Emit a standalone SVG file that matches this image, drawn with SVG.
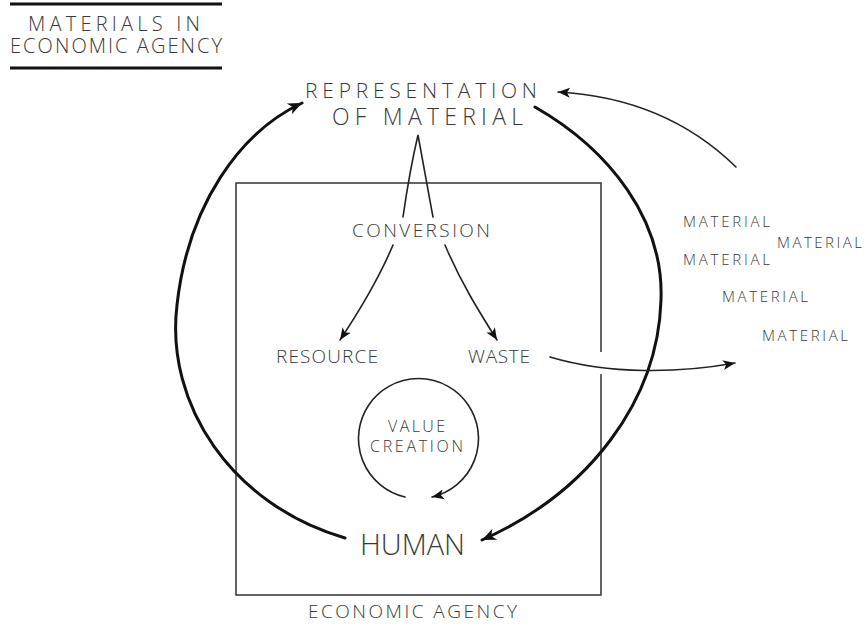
<svg xmlns="http://www.w3.org/2000/svg" width="866" height="624" viewBox="0 0 866 624">
  <defs>
    <marker id="head" markerUnits="userSpaceOnUse" markerWidth="16" markerHeight="14" refX="14" refY="7" orient="auto">
      <path d="M0,1 L14,7 L0,13 L4,7 Z" fill="#111"/>
    </marker>
    <marker id="headSmall" markerUnits="userSpaceOnUse" markerWidth="14" markerHeight="12" refX="12" refY="6" orient="auto">
      <path d="M0,1 L12,6 L0,11 L3,6 Z" fill="#111"/>
    </marker>
    <style>
      text { font-family: "Open Sans", "DejaVu Sans", sans-serif; font-weight: 300; fill: #3a3a3a; }
      .thick { fill: none; stroke: #111; stroke-width: 3; stroke-linecap: round; }
      .thin { fill: none; stroke: #222; stroke-width: 1.6; stroke-linecap: round; }
      .frame { fill: none; stroke: #333; stroke-width: 1.5; }
      .rule { stroke: #111; stroke-width: 3; }
    </style>
  </defs>
  <rect width="866" height="624" fill="#fff"/>

  <!-- title block -->
  <g id="title">
    <line class="rule" x1="10" y1="4" x2="222" y2="4"/>
    <text x="28" y="31" font-size="20" textLength="172" lengthAdjust="spacing">MATERIALS IN</text>
    <text x="10" y="53" font-size="20" textLength="212" lengthAdjust="spacing">ECONOMIC AGENCY</text>
    <line class="rule" x1="10" y1="68" x2="222" y2="68"/>
  </g>

  <!-- economic agency frame -->
  <g id="economic-agency">
    <path class="frame" d="M601,352 L601,183 L236,183 L236,595 L601,595 L601,374"/>
    <text x="308" y="618" font-size="19" textLength="209" lengthAdjust="spacing">ECONOMIC AGENCY</text>
  </g>

  <g id="representation">
    <text x="305" y="98" font-size="21" textLength="232" lengthAdjust="spacing">REPRESENTATION</text>
    <text x="332" y="125" font-size="23" textLength="191" lengthAdjust="spacing">OF MATERIAL</text>
  </g>

  <g id="conversion">
    <text x="352" y="237" font-size="19" textLength="138" lengthAdjust="spacing">CONVERSION</text>
  </g>

  <g id="resource">
    <text x="276" y="363" font-size="19" textLength="102" lengthAdjust="spacing">RESOURCE</text>
  </g>

  <g id="waste">
    <text x="468" y="363" font-size="19" textLength="62" lengthAdjust="spacing">WASTE</text>
  </g>

  <g id="value-creation">
    <text x="388" y="432" font-size="16" textLength="57" lengthAdjust="spacing">VALUE</text>
    <text x="370" y="452" font-size="16" textLength="93" lengthAdjust="spacing">CREATION</text>
  </g>

  <g id="human">
    <text x="360" y="555" font-size="29" textLength="105" lengthAdjust="spacing">HUMAN</text>
  </g>

  <g id="materials">
    <text x="683" y="227" font-size="15" textLength="87" lengthAdjust="spacing">MATERIAL</text>
    <text x="777" y="248" font-size="15" textLength="85" lengthAdjust="spacing">MATERIAL</text>
    <text x="683" y="265" font-size="15" textLength="87" lengthAdjust="spacing">MATERIAL</text>
    <text x="722" y="302" font-size="15" textLength="86" lengthAdjust="spacing">MATERIAL</text>
    <text x="762" y="341" font-size="15" textLength="86" lengthAdjust="spacing">MATERIAL</text>
  </g>

  <!-- connectors -->
  <g id="connectors">
    <!-- human back up to representation -->
    <path class="thick" d="M345,538 C232,505 165,405 177,305 C188,205 240,132 302,103" marker-end="url(#head)"/>
    <!-- representation down to human -->
    <path class="thick" d="M535,107 C610,150 664,220 661,300 C658,400 590,492 482,540" marker-end="url(#head)"/>
    <!-- outside materials back to representation -->
    <path class="thin" d="M736,167 C690,122 630,96 558,92" marker-end="url(#headSmall)"/>
    <!-- waste out to materials -->
    <path class="thin" d="M550,357 C610,375 680,373 735,363" marker-end="url(#headSmall)"/>
    <!-- representation splitting into conversion -->
    <path class="thin" d="M403,217 C408,182 414,152 418,135 C421,152 427,185 433,217"/>
    <path class="thin" d="M393,245 C377,283 358,313 340,340" marker-end="url(#headSmall)"/>
    <path class="thin" d="M445,245 C461,283 480,313 497,340" marker-end="url(#headSmall)"/>
    <!-- value creation loop -->
    <path class="thin" d="M405,497 A60,60 0 1 1 432,497" marker-end="url(#headSmall)"/>
  </g>
</svg>
